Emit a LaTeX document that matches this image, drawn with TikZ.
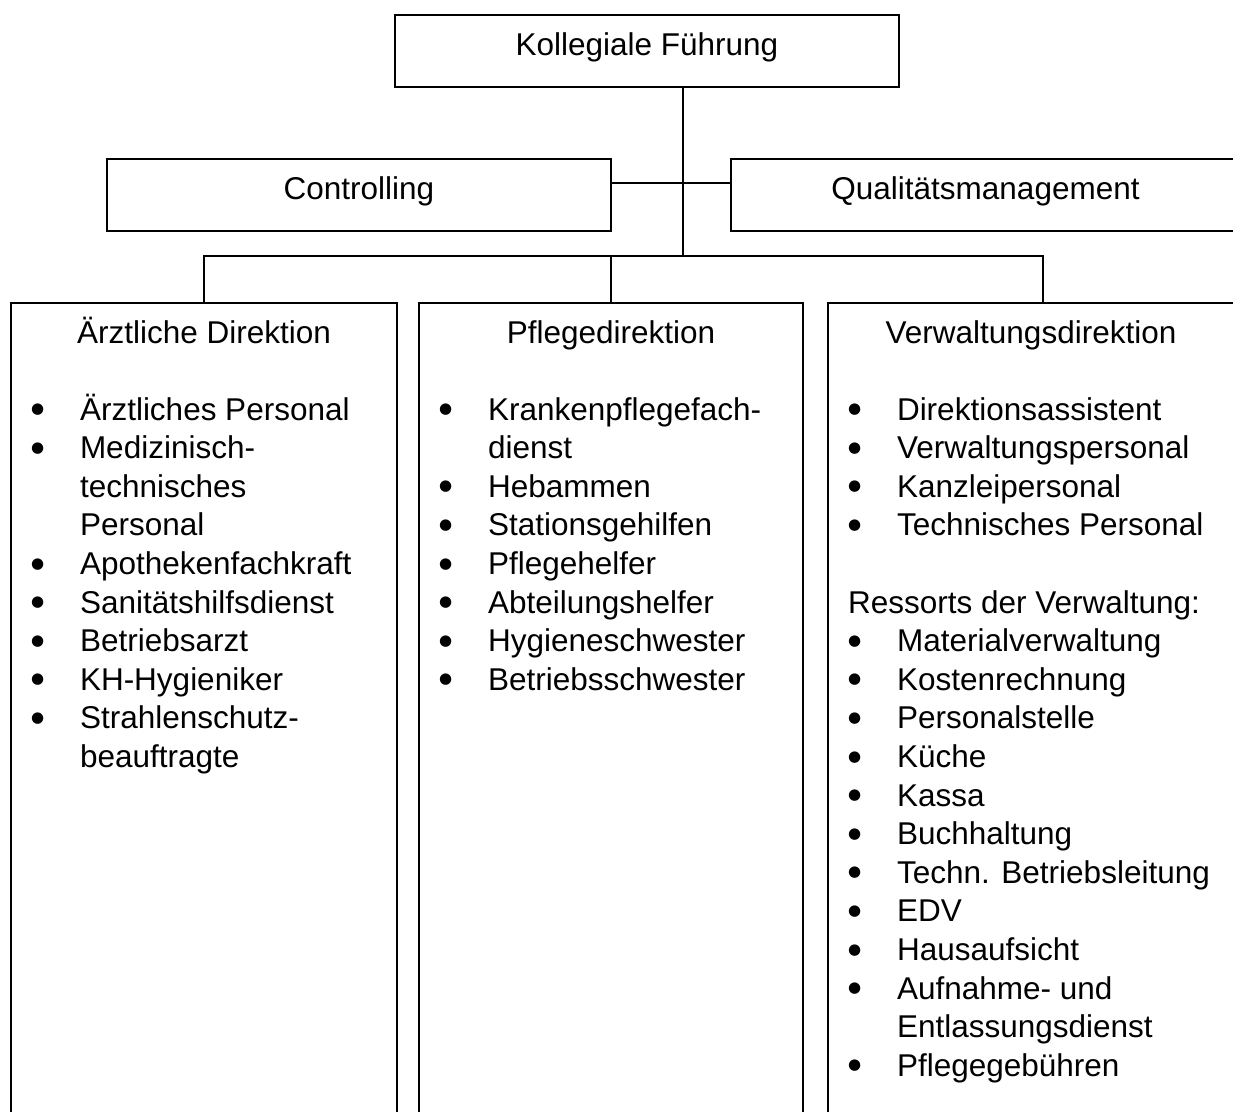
\documentclass[tikz,border=0pt]{standalone}
\usepackage{fontspec}
\setmainfont{Liberation Sans}
\newfontfamily\symfont{DejaVu Sans}
\usepackage{array}

% list bullet: a black circle, centred on the x-height
\newcommand{\bul}{\raisebox{6.3pt}{\fontsize{15}{15}\selectfont\symfont ●}}

\begin{document}
\begin{tikzpicture}[x=1pt, y=-1pt,
  font=\fontsize{31.5}{38.6}\selectfont,
  every node/.style={inner sep=0pt, outer sep=0pt},
  line/.style={line width=1.8pt},
  topbox/.style={draw, line width=1.8pt, minimum height=72pt,
                 text height=18pt, text depth=10pt},
  colbox/.style={draw, line width=1.8pt, minimum height=827pt},
  listnode/.style={anchor=base west, align=left},
  headtext/.style={anchor=base}]

\useasboundingbox (0,0) rectangle (1233,1111);
\clip (0,0) rectangle (1233,1111);

% board level
\node[topbox, minimum width=504pt] (kf) at (647,51) {Kollegiale Führung};
\node[topbox, minimum width=504pt] (ctrl) at (359,195) {Controlling};
\node[topbox, minimum width=509pt] (qm) at (985.5,195) {Qualitätsmanagement};

% directorate boxes
\node[colbox, minimum width=386pt] (aerzt) at (204,716.5) {};
\node[colbox, minimum width=384pt] (pflege) at (611,716.5) {};
\node[colbox, minimum width=430pt] (verw) at (1043,716.5) {};

% junction points of the connector tree
\coordinate (hub) at (683,183);
\coordinate (bus) at (683,256);

\draw[line] (kf.south -| hub) -- (bus);
\draw[line] (ctrl.east |- hub) -- (qm.west |- hub);
\draw[line] (aerzt.north) -- (aerzt.north |- bus) -- (verw.north |- bus) -- (verw.north);
\draw[line] (pflege.north) -- (pflege.north |- bus);

% directorate headings
\node[headtext] (aerzth) at (204,343) {Ärztliche Direktion};
\node[headtext] (pflegeh) at (611,343) {Pflegedirektion};
\node[headtext] (verwh) at (1031,343) {Verwaltungsdirektion};

% staff lists
\node[listnode] (aerztl) at (31,420) {%
\begin{tabular}[t]{@{}p{49pt}@{}l@{}}
\bul & Ärztliches Personal\\
\bul & Medizinisch-\\
     & technisches\\
     & Personal\\
\bul & Apothekenfachkraft\\
\bul & Sanitätshilfsdienst\\
\bul & Betriebsarzt\\
\bul & KH-Hygieniker\\
\bul & Strahlenschutz-\\
     & beauftragte
\end{tabular}};

\node[listnode] (pflegel) at (439,420) {%
\begin{tabular}[t]{@{}p{49pt}@{}l@{}}
\bul & Krankenpflegefach-\\
     & dienst\\
\bul & Hebammen\\
\bul & Stationsgehilfen\\
\bul & Pflegehelfer\\
\bul & Abteilungshelfer\\
\bul & Hygieneschwester\\
\bul & Betriebsschwester
\end{tabular}};

\node[listnode] (verwl) at (848,420) {%
\begin{tabular}[t]{@{}p{49pt}@{}l@{}}
\bul & Direktionsassistent\\
\bul & Verwaltungspersonal\\
\bul & Kanzleipersonal\\
\bul & Technisches Personal\\
     & \\
\multicolumn{2}{@{}l@{}}{Ressorts der Verwaltung:}\\
\bul & Materialverwaltung\\
\bul & Kostenrechnung\\
\bul & Personalstelle\\
\bul & Küche\\
\bul & Kassa\\
\bul & Buchhaltung\\
\bul & Techn. Betriebsleitung\\
\bul & EDV\\
\bul & Hausaufsicht\\
\bul & Aufnahme- und\\
     & Entlassungsdienst\\
\bul & Pflegegebühren
\end{tabular}};

\end{tikzpicture}
\end{document}
